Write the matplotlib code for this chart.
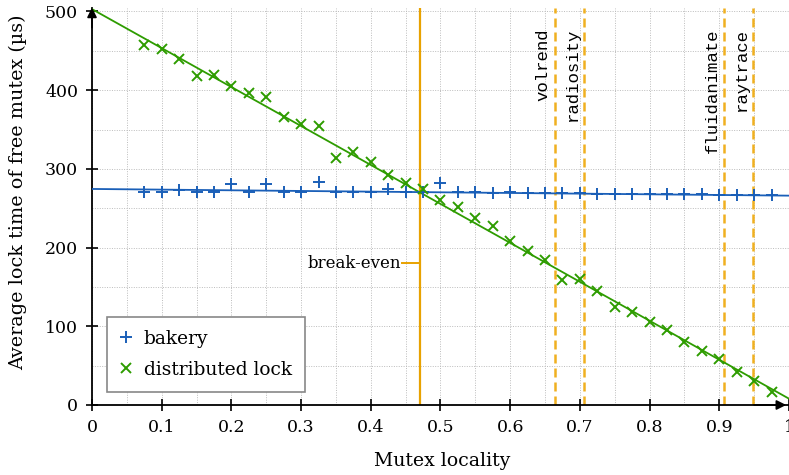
import matplotlib
matplotlib.use("Agg")
import matplotlib.pyplot as plt
from matplotlib.ticker import MultipleLocator

plt.rcParams['font.family'] = ['DejaVu Serif']
plt.rcParams['font.size'] = 12

# measured points
locality = [0.075, 0.1, 0.125, 0.15, 0.175, 0.2, 0.225, 0.25, 0.275, 0.3,
            0.325, 0.35, 0.375, 0.4, 0.425, 0.45, 0.475, 0.5, 0.525, 0.55,
            0.575, 0.6, 0.625, 0.65, 0.675, 0.7, 0.725, 0.75, 0.775, 0.8,
            0.825, 0.85, 0.875, 0.9, 0.925, 0.95, 0.975]
bakery = [270, 271, 273, 270, 271, 281, 271, 281, 270, 271,
          283, 270, 270, 270, 274, 270, 270, 282, 270, 270,
          269, 270, 269, 269, 269, 269, 268, 268, 268, 268,
          268, 268, 268, 267, 267, 267, 267]
distributed = [457, 452, 440, 418, 419, 405, 397, 391, 366, 357,
               354, 314, 321, 309, 292, 282, 275, 260, 251, 238,
               227, 208, 196, 184, 159, 160, 145, 124, 118, 105,
               95, 80, 69, 58, 42, 30, 17]

# linear fits (values at x=0 and x=1)
fit_x = [0, 1]
bakery_fit = [274.5, 266.0]
distributed_fit = [503, 8]

break_even = 0.47
break_even_y = 180
apps = ['volrend', 'radiosity', 'fluidanimate', 'raytrace']
app_locality = [0.664, 0.706, 0.907, 0.949]

blue = '#1a5fb8'
green = '#2e9c00'
orange = '#e8a200'
orange_light = '#f0b020'

fig = plt.figure(figsize=(7.89, 4.75), dpi=100)
ax = fig.add_axes([0.1166, 0.1474, 0.8834, 0.8367])

ax.plot(fit_x, bakery_fit, color=blue, lw=1.3, zorder=3)
ax.plot(fit_x, distributed_fit, color=green, lw=1.3, zorder=3)
ax.plot(locality, bakery, '+', color=blue, ms=8, mew=1.4, zorder=4, label='bakery')
ax.plot(locality, distributed, 'x', color=green, ms=6.5, mew=1.4, zorder=4,
        label='distributed lock')

ax.axvline(break_even, color=orange, lw=1.6, zorder=2)
ax.plot([break_even - 0.025, break_even], [break_even_y, break_even_y], color=orange, lw=1.4)
ax.text(break_even - 0.026, break_even_y, 'break-even', ha='right', va='center')

for name, loc in zip(apps, app_locality):
    ax.axvline(loc, color=orange_light, lw=1.8, ls=(0, (3.6, 2.0)), zorder=2)
    ax.text(loc - 0.006, 479, name, rotation=90, ha='right', va='top',
            family='Liberation Mono', fontsize=12.5)

ax.set_xlim(0, 1)
ax.set_ylim(0, 505)
ax.xaxis.set_minor_locator(MultipleLocator(0.05))
ax.yaxis.set_major_locator(MultipleLocator(100))
ax.yaxis.set_minor_locator(MultipleLocator(50))
ax.set_xticks([0, 0.1, 0.2, 0.3, 0.4, 0.5, 0.6, 0.7, 0.8, 0.9, 1])
ax.set_xticklabels(['0', '0.1', '0.2', '0.3', '0.4', '0.5', '0.6', '0.7', '0.8', '0.9', '1'])
ax.tick_params(which='major', direction='inout', length=8, width=1.2, pad=6,
               labelsize=12.5)
ax.tick_params(which='minor', length=0)
ax.grid(which='both', color='#bcbcbc', ls=(0, (1, 1.5)), lw=0.7)
ax.set_axisbelow(True)

for s in ['top', 'right']:
    ax.spines[s].set_visible(False)
for s in ['left', 'bottom']:
    ax.spines[s].set_linewidth(1.3)
ax.annotate('', xy=(0.996, 0), xytext=(0.95, 0), xycoords='axes fraction',
            arrowprops=dict(arrowstyle='-|>', color='k', lw=1.3, mutation_scale=14,
                            shrinkA=0, shrinkB=0))
ax.annotate('', xy=(0, 1.0), xytext=(0, 0.95), xycoords='axes fraction',
            arrowprops=dict(arrowstyle='-|>', color='k', lw=1.3, mutation_scale=14,
                            shrinkA=0, shrinkB=0))

ax.set_xlabel('Mutex locality', fontsize=13.6)
ax.set_ylabel('Average lock time of free mutex (µs)', fontsize=13.8)
ax.xaxis.set_label_coords(0.503, -0.118)
ax.yaxis.set_label_coords(-0.093, 0.535)

leg = ax.legend(loc='lower left', bbox_to_anchor=(0.021, 0.033), borderaxespad=0,
                fancybox=False, edgecolor='#888888', framealpha=1,
                handlelength=0.7, handletextpad=0.6, borderpad=0.7,
                labelspacing=0.7, fontsize=13.4)
leg.get_frame().set_linewidth(1.2)

fig.savefig('out.png', dpi=100)
